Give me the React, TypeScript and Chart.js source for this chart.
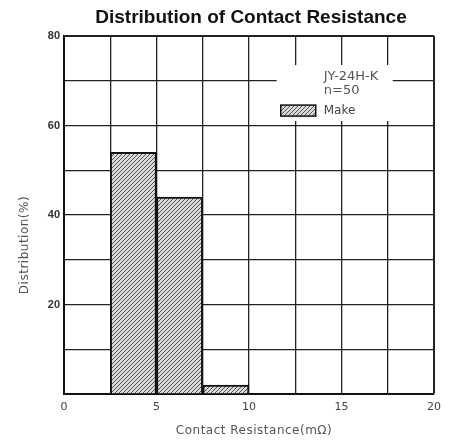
import React, { useEffect, useRef } from "react";
import { Chart, registerables } from "chart.js";

Chart.register(...registerables);

const binCenters = [3.75, 6.25, 8.75];
const makeValues = [54, 44, 2];
const seriesLabel = "Make";
const legendLines = ["JY-24H-K", "n=50"];
const titleText = "Distribution of Contact Resistance";
const xTitle = "Contact Resistance(mΩ)";
const yTitle = "Distribution(%)";
const xLabeled = [0, 5, 10, 15, 20];
const yLabeled = [20, 40, 60, 80];

function makeHatch(): CanvasPattern | string {
  const n = 4;
  const c = document.createElement("canvas");
  c.width = n;
  c.height = n;
  const g = c.getContext("2d");
  if (!g) return "#bbb";
  g.fillStyle = "#d9d9d9";
  g.fillRect(0, 0, n, n);
  g.strokeStyle = "#555";
  g.lineWidth = 1;
  g.beginPath();
  g.moveTo(0, n);
  g.lineTo(n, 0);
  g.moveTo(-n / 2, n / 2);
  g.lineTo(n / 2, -n / 2);
  g.moveTo(n / 2, n * 1.5);
  g.lineTo(n * 1.5, n / 2);
  g.stroke();
  const p = g.createPattern(c, "repeat");
  return p || "#bbb";
}

export default function App() {
  const ref = useRef<HTMLCanvasElement | null>(null);

  useEffect(() => {
    document.body.style.margin = "0";
    const canvas = ref.current;
    if (!canvas) return;
    const hatch = makeHatch();

    const textPlugin = {
      id: "texts",
      afterDraw(chart: any) {
        const ctx = chart.ctx as CanvasRenderingContext2D;
        ctx.save();
        // title
        ctx.fillStyle = "#111";
        ctx.font = "bold 19px 'Liberation Sans', Arial, sans-serif";
        ctx.textAlign = "center";
        ctx.textBaseline = "middle";
        ctx.fillText(titleText, 251, 18);
        // x title
        ctx.fillStyle = "#555";
        ctx.font = "12px 'DejaVu Sans', sans-serif";
        (ctx as any).letterSpacing = "0.5px";
        ctx.fillText(xTitle, 254, 431);
        // y title
        ctx.save();
        ctx.translate(25, 245);
        ctx.rotate(-Math.PI / 2);
        ctx.fillText(yTitle, 0, 0);
        ctx.restore();
        (ctx as any).letterSpacing = "0px";
        // legend region
        const xs = chart.scales.x;
        const ys = chart.scales.y;
        const bx = xs.getPixelForValue(11.5);
        const by = ys.getPixelForValue(73.5);
        ctx.fillStyle = "#fff";
        ctx.fillRect(bx, by, 116, 56);
        ctx.fillStyle = "#555";
        ctx.font = "13px 'DejaVu Sans', sans-serif";
        ctx.textAlign = "left";
        ctx.fillText(legendLines[0], bx + 47, by + 12);
        ctx.fillText(legendLines[1], bx + 47, by + 26);
        ctx.fillStyle = hatch as any;
        ctx.fillRect(bx + 4, by + 40, 35, 11);
        ctx.strokeStyle = "#111";
        ctx.lineWidth = 1.5;
        ctx.strokeRect(bx + 4, by + 40, 35, 11);
        ctx.fillStyle = "#444";
        ctx.font = "12px 'DejaVu Sans', sans-serif";
        ctx.fillText(seriesLabel, bx + 47, by + 46);
        ctx.restore();
      },
    };

    const chart = new Chart(canvas, {
      type: "bar",
      data: {
        datasets: [
          {
            label: seriesLabel,
            data: binCenters.map((x, i) => ({ x, y: makeValues[i] })),
            backgroundColor: hatch as any,
            borderColor: "#111",
            borderWidth: 2,
            barPercentage: 1,
            categoryPercentage: 1,
          },
        ],
      },
      options: {
        animation: false,
        responsive: false,
        layout: { padding: { left: 0, right: 17, top: 36, bottom: 0 } },
        plugins: {
          legend: { display: false },
          tooltip: { enabled: false },
          title: { display: false },
        },
        scales: {
          x: {
            type: "linear",
            min: 0,
            max: 20,
            offset: false,
            afterFit: (s: any) => {
              s.height = 48;
            },
            border: { color: "#111", width: 2 },
            grid: {
              offset: false,
              drawTicks: false,
              color: "#222",
              lineWidth: (c: any) => (c.tick && c.tick.value === 20 ? 2 : 1.3),
            },
            ticks: {
              stepSize: 2.5,
              autoSkip: false,
              maxRotation: 0,
              padding: 7,
              color: "#444",
              font: { family: "'DejaVu Sans', sans-serif", size: 11 },
              callback: (v: any) => (xLabeled.includes(Number(v)) ? String(v) : ""),
            },
          },
          y: {
            min: 0,
            max: 80,
            afterFit: (s: any) => {
              s.width = 64;
            },
            border: { color: "#111", width: 2 },
            grid: {
              drawTicks: false,
              color: "#222",
              lineWidth: (c: any) => (c.tick && c.tick.value === 80 ? 2 : 1.3),
            },
            ticks: {
              stepSize: 10,
              padding: 4,
              color: "#333",
              font: { family: "'Liberation Sans', Arial, sans-serif", size: 11, weight: "bold" },
              callback: (v: any) => (yLabeled.includes(Number(v)) ? String(v) : ""),
            },
          },
        },
      },
      plugins: [textPlugin],
    } as any);

    return () => chart.destroy();
  }, []);

  return (
    <div style={{ width: 451, height: 442 }}>
      <canvas ref={ref} width={451} height={442} style={{ display: "block" }} />
    </div>
  );
}
